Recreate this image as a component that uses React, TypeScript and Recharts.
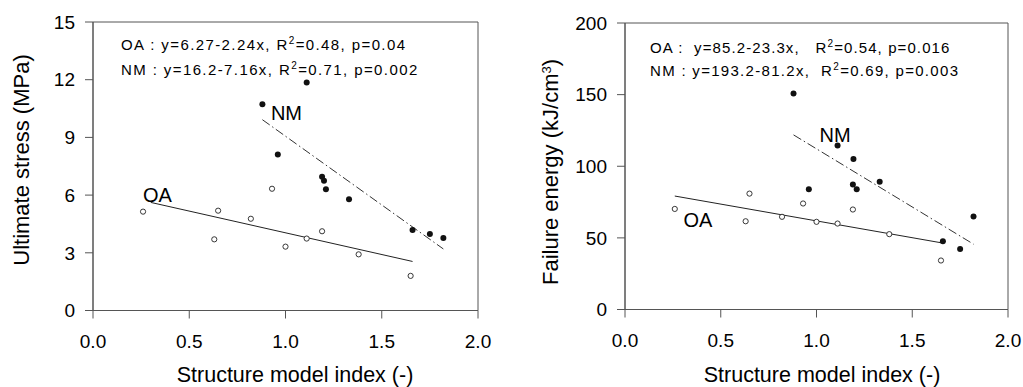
import { ScatterChart, Scatter, XAxis, YAxis, ReferenceArea, ReferenceDot, Label } from 'recharts'

const FONT = '"Liberation Sans", Arial, Helvetica, sans-serif'

// shared x axis (structure model index)
const smiTicks = [0, 0.5, 1, 1.5, 2]

// left panel: ultimate stress (MPa)
const stressTicks = [0, 3, 6, 9, 12, 15]
const stressOA = [
  { x: 0.26, y: 5.14 }, { x: 0.63, y: 3.7 }, { x: 0.65, y: 5.19 }, { x: 0.82, y: 4.77 },
  { x: 0.93, y: 6.33 }, { x: 1.0, y: 3.32 }, { x: 1.11, y: 3.74 }, { x: 1.19, y: 4.12 },
  { x: 1.38, y: 2.92 }, { x: 1.65, y: 1.8 },
]
const stressNM = [
  { x: 0.88, y: 10.73 }, { x: 0.96, y: 8.11 }, { x: 1.11, y: 11.85 }, { x: 1.19, y: 6.95 },
  { x: 1.2, y: 6.75 }, { x: 1.21, y: 6.3 }, { x: 1.33, y: 5.78 }, { x: 1.66, y: 4.19 },
  { x: 1.75, y: 3.98 }, { x: 1.82, y: 3.77 },
]
const stressOAFit = [{ x: 0.3, y: 5.62 }, { x: 1.66, y: 2.55 }]
const stressNMFit = [{ x: 0.88, y: 9.92 }, { x: 1.82, y: 3.2 }]

// right panel: failure energy (kJ/cm3)
const energyTicks = [0, 50, 100, 150, 200]
const energyOA = [
  { x: 0.26, y: 70.2 }, { x: 0.63, y: 61.6 }, { x: 0.65, y: 80.9 }, { x: 0.82, y: 64.7 },
  { x: 0.93, y: 74.0 }, { x: 1.0, y: 61.2 }, { x: 1.11, y: 60.0 }, { x: 1.19, y: 69.8 },
  { x: 1.38, y: 52.6 }, { x: 1.65, y: 34.2 },
]
const energyNM = [
  { x: 0.88, y: 150.7 }, { x: 0.96, y: 84.0 }, { x: 1.11, y: 114.4 }, { x: 1.193, y: 105.1 },
  { x: 1.19, y: 87.2 }, { x: 1.21, y: 84.0 }, { x: 1.33, y: 89.1 }, { x: 1.66, y: 47.7 },
  { x: 1.75, y: 42.3 }, { x: 1.82, y: 64.9 },
]
const energyOAFit = [{ x: 0.26, y: 79.2 }, { x: 1.65, y: 46.6 }]
const energyNMFit = [{ x: 0.88, y: 121.9 }, { x: 1.82, y: 45.6 }]

// regression annotations: [before superscript, after superscript]
const stressEq = [
  ['OA : y=6.27-2.24x, R', '=0.48, p=0.04'],
  ['NM : y=16.2-7.16x, R', '=0.71, p=0.002'],
]
const energyEq = [
  ['OA :  y=85.2-23.3x,   R', '=0.54, p=0.016'],
  ['NM : y=193.2-81.2x,  R', '=0.69, p=0.003'],
]

const openDot = (p: any) => (
  <circle cx={p.cx} cy={p.cy} r={2.6} fill="#fff" stroke="#222" strokeWidth={0.9} />
)
const fullDot = (p: any) => <circle cx={p.cx} cy={p.cy} r={3} fill="#111" />
const noDot = () => <g />

const tickStyle = { fontSize: 19, fill: '#000', fontFamily: FONT }
const axisLine = { stroke: '#555', strokeWidth: 1 }

function EqLine({ x, y, parts, spacing }: { x: number; y: number; parts: string[]; spacing: number }) {
  return (
    <text x={x} y={y} xmlSpace="preserve" letterSpacing={spacing}>
      {parts[0]}
      <tspan dy={-6} fontSize={10}>2</tspan>
      <tspan dy={6}>{parts[1]}</tspan>
    </text>
  )
}

function Panel(props: any) {
  const {
    left, width, yWidth, top, xHeight, marginRight, yMax, yTicks,
    oa, nm, oaFit, nmFit, oaLabel, nmLabel, yTitle, yTitleX, yTitleY, xTitleX,
  } = props
  return (
    <div style={{ position: 'absolute', left, top: 0 }}>
      <ScatterChart width={width} height={387} margin={{ top, right: marginRight, bottom: 0, left: 0 }}>
        <XAxis
          type="number"
          dataKey="x"
          domain={[0, 2]}
          ticks={smiTicks}
          tickFormatter={(v: number) => v.toFixed(1)}
          tick={tickStyle}
          tickSize={8}
          tickMargin={16}
          height={xHeight}
          axisLine={axisLine}
          tickLine={axisLine}
          allowDataOverflow
        >
          <Label
            content={() => (
              <text x={xTitleX} y={382} textAnchor="middle" fontSize={21.5} fontFamily={FONT} fill="#000">
                Structure model index (-)
              </text>
            )}
          />
        </XAxis>
        <YAxis
          type="number"
          dataKey="y"
          domain={[0, yMax]}
          ticks={yTicks}
          tick={tickStyle}
          tickSize={8}
          tickMargin={10}
          width={yWidth}
          axisLine={axisLine}
          tickLine={axisLine}
          allowDataOverflow
        >
          <Label
            content={() => (
              <text
                x={yTitleX}
                y={yTitleY}
                transform={`rotate(-90, ${yTitleX}, ${yTitleY})`}
                textAnchor="middle"
                fontSize={22}
                fontFamily={FONT}
                fill="#000"
              >
                {yTitle}
              </text>
            )}
          />
        </YAxis>
        <ReferenceArea x1={0} x2={2} y1={0} y2={yMax} fill="none" stroke="#555" strokeWidth={1} />
        <Scatter data={oaFit} fill="none" shape={noDot} line={{ stroke: '#222', strokeWidth: 1 }} isAnimationActive={false} />
        <Scatter
          data={nmFit}
          fill="none"
          shape={noDot}
          line={{ stroke: '#333', strokeWidth: 1, strokeDasharray: '9 3 1.5 3' }}
          isAnimationActive={false}
        />
        <Scatter data={oa} shape={openDot} isAnimationActive={false} />
        <Scatter data={nm} shape={fullDot} isAnimationActive={false} />
        <ReferenceDot
          x={oaLabel.x}
          y={oaLabel.y}
          r={0}
          fill="none"
          stroke="none"
          label={{ value: 'OA', position: 'center', fontSize: 20, fill: '#000', fontFamily: FONT }}
        />
        <ReferenceDot
          x={nmLabel.x}
          y={nmLabel.y}
          r={0}
          fill="none"
          stroke="none"
          label={{ value: 'NM', position: 'center', fontSize: 20, fill: '#000', fontFamily: FONT }}
        />
      </ScatterChart>
    </div>
  )
}

export default function App() {
  return (
    <div style={{ position: 'absolute', left: 0, top: 0, width: 1023, height: 387, background: '#fff' }}>
      <Panel
        left={0}
        width={512}
        yWidth={93}
        top={22}
        xHeight={76.5}
        marginRight={34}
        yMax={15}
        yTicks={stressTicks}
        oa={stressOA}
        nm={stressNM}
        oaFit={stressOAFit}
        nmFit={stressNMFit}
        oaLabel={{ x: 0.335, y: 6.0 }}
        nmLabel={{ x: 1.005, y: 10.27 }}
        yTitle="Ultimate stress (MPa)"
        yTitleX={29}
        yTitleY={160}
        xTitleX={295}
      />
      <Panel
        left={512}
        width={511}
        yWidth={113}
        top={23}
        xHeight={77.5}
        marginRight={15}
        yMax={200}
        yTicks={energyTicks}
        oa={energyOA}
        nm={energyNM}
        oaFit={energyOAFit}
        nmFit={energyNMFit}
        oaLabel={{ x: 0.381, y: 62.5 }}
        nmLabel={{ x: 1.097, y: 121.9 }}
        yTitle={
          <>
            Failure energy (kJ/cm<tspan dy={-7} fontSize={13}>3</tspan>
            <tspan dy={7}>)</tspan>
          </>
        }
        yTitleX={46}
        yTitleY={172}
        xTitleX={310}
      />
      <svg
        width={1023}
        height={387}
        style={{ position: 'absolute', left: 0, top: 0, pointerEvents: 'none' }}
        fontFamily={FONT}
        fontSize={15}
        fill="#000"
      >
        <EqLine x={121} y={49.5} parts={stressEq[0]} spacing={1.4} />
        <EqLine x={121} y={74.5} parts={stressEq[1]} spacing={1.4} />
        <EqLine x={650} y={52.5} parts={energyEq[0]} spacing={1.1} />
        <EqLine x={650} y={76} parts={energyEq[1]} spacing={1.3} />
      </svg>
    </div>
  )
}
